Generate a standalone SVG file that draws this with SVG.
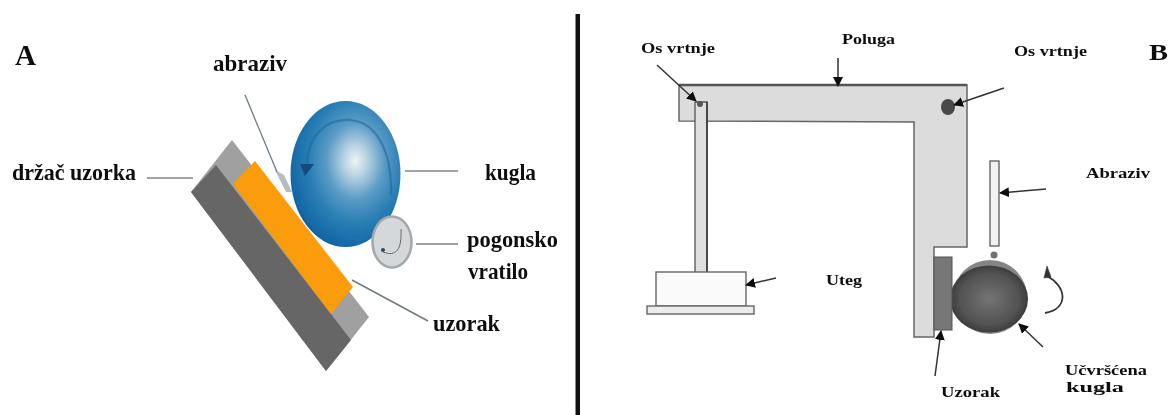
<svg xmlns="http://www.w3.org/2000/svg" width="1174" height="415" viewBox="0 0 1174 415">
<style>
text{font-family:"Liberation Serif","Times New Roman",serif;font-weight:bold;fill:#111}
.s{font-size:23px}
.r{font-size:15px}
.big{font-size:30px}
.lg{stroke:#9ea3a6;stroke-width:2;fill:none}
.bl{stroke:#333;stroke-width:1.5;fill:none}
.ol{stroke:#666;stroke-width:1.4}
</style>
<defs>
<filter id="soft" x="-5%" y="-5%" width="110%" height="110%"><feGaussianBlur stdDeviation="0.6"/></filter>
<filter id="softT" x="-5%" y="-5%" width="110%" height="110%"><feGaussianBlur stdDeviation="0.5"/></filter>
<radialGradient id="ball" cx="0.59" cy="0.41" r="0.62">
<stop offset="0" stop-color="#edf4f7"/><stop offset="0.16" stop-color="#bcd5e3"/><stop offset="0.42" stop-color="#5b9cc6"/><stop offset="0.68" stop-color="#2a7fb5"/><stop offset="1" stop-color="#0f64a4"/>
</radialGradient>
<radialGradient id="ball2" cx="0.5" cy="0.5" r="0.55">
<stop offset="0" stop-color="#747474"/><stop offset="0.7" stop-color="#525252"/><stop offset="1" stop-color="#333"/>
</radialGradient>
<marker id="ah" viewBox="0 0 10 10" refX="9" refY="5" markerWidth="10" markerHeight="10" markerUnits="userSpaceOnUse" orient="auto"><path d="M0 0L10 5L0 10Z" fill="#111"/></marker>
</defs>
<rect width="1174" height="415" fill="#fff"/>
<rect id="divider" x="575.500" y="14" width="4.500" height="401" fill="#111"/>
<g filter="url(#soft)">
<g id="holder">
<polygon points="232,140 191,192 326,371 369,317" fill="#a0a0a0"/>
<polygon points="191,192 216,165 351,340 326,371" fill="#666"/>
</g>
<polygon points="275,170 284,175 292,192 286,192" fill="#b4bcc0"/>
<g id="sample-a"><polygon points="233,184 255,161 353,287 331,314" fill="#fb9c0c"/></g>
<g id="ball-a">
<ellipse cx="345.500" cy="174" rx="55" ry="73" fill="url(#ball)"/>
<path d="M307 170C306 135 326 119 350 120C376 122 392 150 391 195" fill="none" stroke="#21689f" stroke-width="2.200" opacity="0.6"/>
<polygon points="300,164 314,164 305,176" fill="#13487f"/>
</g>
<g id="shaft">
<ellipse cx="392" cy="242" rx="19.500" ry="25.500" fill="#d4d8db" stroke="#a3a8ac" stroke-width="2.500"/>
<path d="M401 229C402 250 396 257 383 252" fill="none" stroke="#666" stroke-width="1"/>
<circle cx="383" cy="250" r="2" fill="#27466b"/>
</g>
<g id="connectors-a">
<path class="lg" d="M147 178H193"/>
<path class="lg" d="M405 171H458"/>
<path class="lg" d="M416 244H458"/>
<path d="M245 95L277 172" stroke="#6c7a86" stroke-width="1.300" fill="none"/>
<path d="M352 280L428 321" stroke="#6f7a7f" stroke-width="1.500" fill="none"/>
</g>
<g id="lever"><path d="M679 85H967V247H934V337H914V122L679 121Z" fill="#dcdcdc" stroke="#666" stroke-width="1.500"/>
<path d="M679 85H967" stroke="#555" stroke-width="2.500"/></g>
<g id="rod"><rect x="695" y="102" width="12" height="170" fill="#dfdfdf"/><path d="M695 102H707V272M695 102V272" fill="none" stroke="#555" stroke-width="1.300"/><path d="M707 102V272" stroke="#333" stroke-width="1.500"/></g>
<circle cx="700" cy="104" r="3" fill="#555"/>
<g id="weight"><rect x="656" y="272" width="90" height="34" fill="#fafafa" class="ol"/><rect x="647" y="306" width="107" height="8" fill="#ececec" class="ol"/></g>
<ellipse id="pivot" cx="948" cy="107" rx="7" ry="8" fill="#4a4a4a"/>
<rect id="abrasive" x="990" y="161" width="9" height="85" fill="#f1f1f1" class="ol"/>
<circle cx="994" cy="255" r="3.500" fill="#707070"/>
<g id="ball-b"><ellipse cx="990" cy="297" rx="37" ry="37" fill="#858585"/><ellipse cx="989" cy="299" rx="39" ry="33.500" fill="url(#ball2)"/></g>
<rect id="sample-b" x="934" y="257" width="18" height="73" fill="#777" stroke="#555"/>
<g id="connectors-b">
<path class="bl" d="M657 65L696 101" marker-end="url(#ah)"/>
<path class="bl" d="M838 58V86" marker-end="url(#ah)"/>
<path class="bl" d="M1004 88L954 105" marker-end="url(#ah)"/>
<path class="bl" d="M1046 189L1000 193" marker-end="url(#ah)"/>
<path class="bl" d="M776 278L746 285" marker-end="url(#ah)"/>
<path class="bl" d="M935 376L941 331" marker-end="url(#ah)"/>
<path class="bl" d="M1043 347L1019 324" marker-end="url(#ah)"/>
<path d="M1047 276C1066 286 1070 308 1045 313" fill="none" stroke="#333" stroke-width="1.800"/>
<path d="M1047 266L1044 278L1051 277Z" fill="#333" stroke="#333" stroke-width="0.600"/>
</g>
</g>
<g filter="url(#softT)">
<text class="big" x="15" y="65" textLength="21" lengthAdjust="spacingAndGlyphs">A</text>
<text class="s" x="213" y="71" textLength="74" lengthAdjust="spacingAndGlyphs">abraziv</text>
<text class="s" x="12" y="180" textLength="124" lengthAdjust="spacingAndGlyphs">držač uzorka</text>
<text class="s" x="485" y="180" textLength="51" lengthAdjust="spacingAndGlyphs">kugla</text>
<text class="s" x="467" y="247" textLength="91" lengthAdjust="spacingAndGlyphs">pogonsko</text>
<text class="s" x="468" y="279" textLength="60" lengthAdjust="spacingAndGlyphs">vratilo</text>
<text class="s" x="433" y="331" textLength="67" lengthAdjust="spacingAndGlyphs">uzorak</text>
<text class="r" x="641" y="53" textLength="74" lengthAdjust="spacingAndGlyphs">Os vrtnje</text>
<text class="r" x="842" y="44" textLength="53" lengthAdjust="spacingAndGlyphs">Poluga</text>
<text class="r" x="1014" y="56" textLength="73" lengthAdjust="spacingAndGlyphs">Os vrtnje</text>
<text class="big" x="1149" y="60" textLength="19" lengthAdjust="spacingAndGlyphs" style="font-size:24px">B</text>
<text class="r" x="1086" y="178" textLength="64" lengthAdjust="spacingAndGlyphs">Abraziv</text>
<text class="r" x="826" y="285" textLength="36" lengthAdjust="spacingAndGlyphs">Uteg</text>
<text class="r" x="941" y="397" textLength="59" lengthAdjust="spacingAndGlyphs">Uzorak</text>
<text class="r" x="1065" y="375" textLength="82" lengthAdjust="spacingAndGlyphs">Učvršćena</text>
<text class="r" x="1066" y="392" textLength="58" lengthAdjust="spacingAndGlyphs">kugla</text>
</g>
</svg>
